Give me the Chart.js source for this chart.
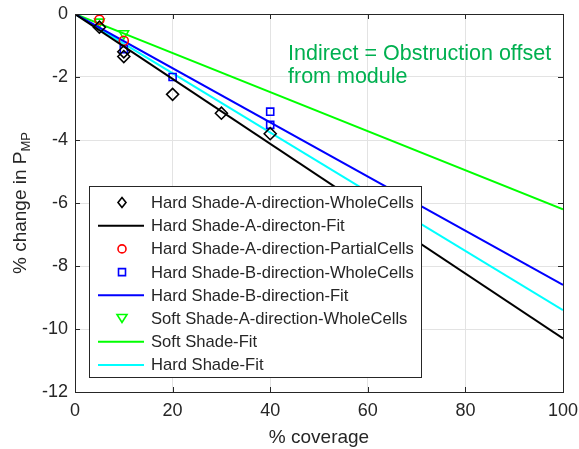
<!DOCTYPE html>
<html>
<head>
<meta charset="utf-8">
<script src="https://cdn.jsdelivr.net/npm/chart.js@4.4.1/dist/chart.umd.min.js"></script>
<style>
  html, body { margin: 0; padding: 0; background: #fff; }
  #wrap { width: 579px; height: 449px; }
</style>
</head>
<body>
<div id="wrap"><canvas id="chart" width="579" height="449"></canvas></div>
<script>
// values
var hardA_x = [5, 10, 10, 20, 30, 40];
var hardA_y = [-0.42, -1.2, -1.35, -2.55, -3.15, -3.8];
var partialA_x = [5, 10];
var partialA_y = [-0.18, -0.85];
var hardB_x = [10, 20, 40, 40];
var hardB_y = [-1.12, -2.0, -3.1, -3.52];
var softA_x = [5, 10];
var softA_y = [-0.25, -0.62];

var fit_x = [0, 100];
var hardA_fit = [0, -10.3];
var hardB_fit = [0, -8.6];
var soft_fit = [0, -6.2];
var hard_fit = [0, -9.4];

var xTicks = [0, 20, 40, 60, 80, 100];
var yTicks = [-12, -10, -8, -6, -4, -2, 0];

function pts(xs, ys) {
    var out = [];
    for (var i = 0; i < xs.length; i++) out.push({x: xs[i], y: ys[i]});
    return out;
}

var FONT = "'Liberation Sans', Arial, sans-serif";
var TXT = "#262626";

// legend + frame + labels drawn by hand, MATLAB style
var matlabBits = {
    id: 'matlabBits',
    afterDatasetsDraw: function(chart) {
        var ctx = chart.ctx;
        var a = chart.chartArea;
        var xs = chart.scales.x, ys = chart.scales.y;
        ctx.save();
        // inward tick marks
        ctx.strokeStyle = TXT;
        ctx.lineWidth = 1;
        ctx.beginPath();
        xTicks.forEach(function(v) {
            var px = Math.round(xs.getPixelForValue(v)) + 0.5;
            ctx.moveTo(px, a.bottom); ctx.lineTo(px, a.bottom - 5);
            ctx.moveTo(px, a.top); ctx.lineTo(px, a.top + 5);
        });
        yTicks.forEach(function(v) {
            var py = Math.round(ys.getPixelForValue(v)) + 0.5;
            ctx.moveTo(a.left, py); ctx.lineTo(a.left + 5, py);
            ctx.moveTo(a.right, py); ctx.lineTo(a.right - 5, py);
        });
        ctx.stroke();
        // box
        ctx.strokeRect(Math.round(a.left) + 0.5, Math.round(a.top) + 0.5,
            Math.round(a.right - a.left), Math.round(a.bottom - a.top));

        // annotation
        ctx.fillStyle = "#00b050";
        ctx.font = "21.5px " + FONT;
        ctx.textBaseline = "alphabetic";
        ctx.textAlign = "left";
        ctx.fillText("Indirect = Obstruction offset", 288, 60);
        ctx.fillText("from module", 288, 83);

        // legend
        var lx = 89, ly = 186, lw = 332, lh = 191;
        ctx.fillStyle = "#fff";
        ctx.fillRect(lx, ly, lw, lh);
        ctx.strokeStyle = "#262626";
        ctx.lineWidth = 1;
        ctx.strokeRect(lx + 0.5, ly + 0.5, lw, lh);
        ctx.font = "16.6px " + FONT;
        ctx.textBaseline = "middle";
        chart.data.datasets.forEach(function(ds, i) {
            var cy = ly + 16.5 + i * 23.2;
            var mx = lx + 33;
            if (ds.showLine) {
                ctx.strokeStyle = ds.borderColor;
                ctx.lineWidth = 2;
                ctx.beginPath();
                ctx.moveTo(lx + 9, cy); ctx.lineTo(lx + 55, cy);
                ctx.stroke();
            } else {
                ctx.strokeStyle = ds.borderColor;
                ctx.lineWidth = 1.6;
                ctx.beginPath();
                if (ds.pointStyle === 'rectRot') {
                    ctx.moveTo(mx, cy - 5); ctx.lineTo(mx + 4, cy); ctx.lineTo(mx, cy + 5); ctx.lineTo(mx - 4, cy); ctx.closePath();
                } else if (ds.pointStyle === 'circle') {
                    ctx.arc(mx, cy, 4, 0, Math.PI * 2);
                } else if (ds.pointStyle === 'rect') {
                    ctx.rect(mx - 3.5, cy - 3.5, 7, 7);
                } else {
                    ctx.moveTo(mx - 5, cy - 4); ctx.lineTo(mx + 5, cy - 4); ctx.lineTo(mx, cy + 4); ctx.closePath();
                }
                ctx.stroke();
            }
            ctx.fillStyle = TXT;
            ctx.fillText(ds.label, lx + 62, cy + 1);
        });

        // x title
        ctx.fillStyle = TXT;
        ctx.font = "19px " + FONT;
        ctx.textAlign = "center";
        ctx.textBaseline = "middle";
        ctx.fillText("% coverage", (a.left + a.right) / 2, 438);

        // y title with subscript
        ctx.translate(19, (a.top + a.bottom) / 2);
        ctx.rotate(-Math.PI / 2);
        var main = "% change in P";
        ctx.font = "19px " + FONT;
        var w1 = ctx.measureText(main).width;
        ctx.font = "13px " + FONT;
        var w2 = ctx.measureText("MP").width;
        var sx = -(w1 + w2) / 2;
        ctx.textAlign = "left";
        ctx.textBaseline = "alphabetic";
        ctx.font = "19px " + FONT;
        ctx.fillText(main, sx, 7);
        ctx.font = "13px " + FONT;
        ctx.fillText("MP", sx + w1, 11);
        ctx.restore();
    }
};

new Chart(document.getElementById("chart"), {
    type: 'scatter',
    data: {
        datasets: [{
            label: "Hard Shade-A-direction-WholeCells",
            data: pts(hardA_x, hardA_y),
            pointStyle: 'rectRot', pointRadius: 6, borderColor: "#000000",
            backgroundColor: "rgba(0,0,0,0)", borderWidth: 1.6, showLine: false
        }, {
            label: "Hard Shade-A-directon-Fit",
            data: pts(fit_x, hardA_fit),
            borderColor: "#000000", borderWidth: 2, pointRadius: 0, showLine: true
        }, {
            label: "Hard Shade-A-direction-PartialCells",
            data: pts(partialA_x, partialA_y),
            pointStyle: 'circle', pointRadius: 4.5, borderColor: "#ff0000",
            backgroundColor: "rgba(0,0,0,0)", borderWidth: 1.6, showLine: false
        }, {
            label: "Hard Shade-B-direction-WholeCells",
            data: pts(hardB_x, hardB_y),
            pointStyle: 'rect', pointRadius: 5, borderColor: "#0000ff",
            backgroundColor: "rgba(0,0,0,0)", borderWidth: 1.6, showLine: false
        }, {
            label: "Hard Shade-B-direction-Fit",
            data: pts(fit_x, hardB_fit),
            borderColor: "#0000ff", borderWidth: 2, pointRadius: 0, showLine: true
        }, {
            label: "Soft Shade-A-direction-WholeCells",
            data: pts(softA_x, softA_y),
            pointStyle: 'triangle', rotation: 180, pointRadius: 5.5, borderColor: "#00ff00",
            backgroundColor: "rgba(0,0,0,0)", borderWidth: 1.6, showLine: false
        }, {
            label: "Soft Shade-Fit",
            data: pts(fit_x, soft_fit),
            borderColor: "#00ff00", borderWidth: 2, pointRadius: 0, showLine: true
        }, {
            label: "Hard Shade-Fit",
            data: pts(fit_x, hard_fit),
            borderColor: "#00ffff", borderWidth: 2, pointRadius: 0, showLine: true
        }]
    },
    options: {
        responsive: false,
        animation: false,
        layout: { padding: { top: 14, right: 16, left: 0, bottom: 0 } },
        plugins: {
            legend: { display: false },
            tooltip: { enabled: false }
        },
        scales: {
            x: {
                type: 'linear', min: 0, max: 100,
                afterBuildTicks: function(s) { s.ticks = xTicks.map(function(v) { return {value: v}; }); },
                afterFit: function(s) { s.height = 57; s.paddingLeft = 0; s.paddingRight = 0; },
                grid: { color: "#e3e3e3", drawTicks: false },
                border: { display: false },
                ticks: { color: TXT, font: { size: 18, family: FONT }, padding: 8 }
            },
            y: {
                type: 'linear', min: -12, max: 0,
                afterBuildTicks: function(s) { s.ticks = yTicks.map(function(v) { return {value: v}; }); },
                afterFit: function(s) { s.width = 75; s.paddingTop = 0; s.paddingBottom = 0; },
                grid: { color: "#e3e3e3", drawTicks: false },
                border: { display: false },
                ticks: { color: TXT, font: { size: 18, family: FONT }, padding: 7 }
            }
        }
    },
    plugins: [matlabBits]
});
</script>
</body>
</html>
